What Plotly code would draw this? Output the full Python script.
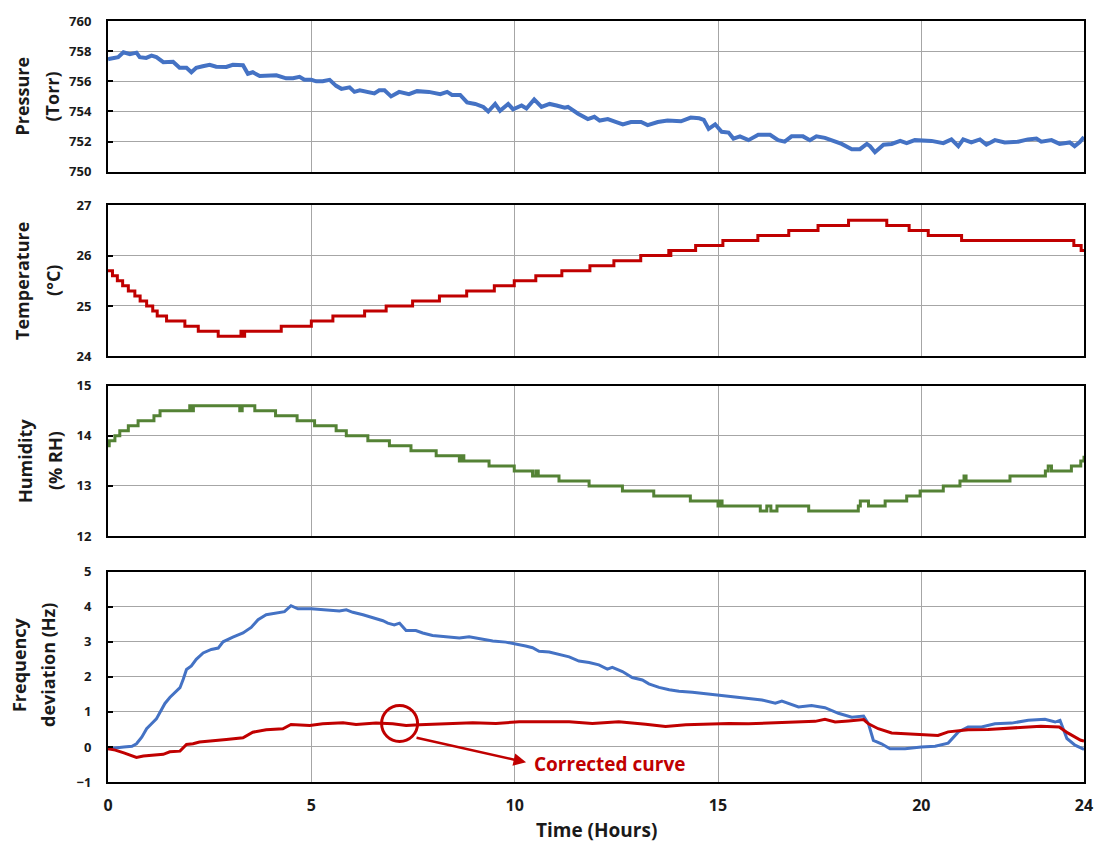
import plotly.graph_objects as go

# ---------------- data ----------------
# Pressure (Torr) vs time (hours)
press_t = [0.0, 0.05, 0.25, 0.38, 0.54, 0.70, 0.78, 0.94, 1.07, 1.19, 1.36, 1.60, 1.76, 1.93, 2.05,
           2.17, 2.33, 2.50, 2.66, 2.91, 3.07, 3.32, 3.44, 3.56, 3.73, 3.97, 4.14, 4.38, 4.55, 4.71,
           4.83, 5.00, 5.12, 5.28, 5.45, 5.61, 5.74, 5.94, 6.06, 6.19, 6.35, 6.55, 6.67, 6.80, 6.96,
           7.16, 7.40, 7.60, 7.89, 8.17, 8.34, 8.46, 8.66, 8.83, 9.03, 9.23, 9.35, 9.52, 9.64, 9.84,
           9.96, 10.17, 10.29, 10.48, 10.66, 10.86, 11.03, 11.23, 11.31, 11.56, 11.80, 11.96, 12.09,
           12.29, 12.50, 12.66, 12.86, 13.11, 13.27, 13.52, 13.76, 14.09, 14.33, 14.54, 14.65, 14.77,
           14.93, 15.09, 15.26, 15.38, 15.54, 15.75, 15.99, 16.28, 16.48, 16.64, 16.81, 17.09, 17.26,
           17.42, 17.63, 17.83, 18.04, 18.29, 18.49, 18.66, 18.74, 18.86, 19.07, 19.27, 19.48, 19.64,
           19.84, 20.25, 20.54, 20.74, 20.91, 21.03, 21.23, 21.44, 21.60, 21.81, 22.05, 22.38, 22.62,
           22.83, 22.95, 23.20, 23.40, 23.65, 23.77, 23.89, 24.0]
press_v = [757.45, 757.5, 757.6, 757.93, 757.8, 757.9, 757.6, 757.55, 757.7, 757.6, 757.27, 757.3,
           756.9, 756.9, 756.6, 756.9, 757.0, 757.1, 756.97, 756.95, 757.1, 757.07, 756.5, 756.6,
           756.35, 756.4, 756.4, 756.2, 756.2, 756.3, 756.1, 756.1, 756.0, 756.0, 756.1, 755.7,
           755.5, 755.6, 755.3, 755.4, 755.3, 755.2, 755.4, 755.4, 755.0, 755.3, 755.15, 755.35,
           755.3, 755.15, 755.3, 755.1, 755.1, 754.6, 754.5, 754.3, 754.0, 754.5, 754.05, 754.5,
           754.15, 754.4, 754.2, 754.8, 754.3, 754.5, 754.4, 754.25, 754.3, 753.85, 753.5, 753.65,
           753.4, 753.5, 753.3, 753.15, 753.3, 753.3, 753.1, 753.3, 753.4, 753.35, 753.6, 753.55,
           753.45, 752.85, 753.15, 752.65, 752.6, 752.2, 752.35, 752.1, 752.45, 752.45, 752.1,
           752.0, 752.35, 752.35, 752.1, 752.35, 752.25, 752.05, 751.85, 751.5, 751.5, 751.85,
           751.7, 751.3, 751.8, 751.85, 752.05, 751.9, 752.1, 752.05, 751.9, 752.15, 751.7, 752.15,
           751.95, 752.15, 751.8, 752.1, 751.95, 752.0, 752.15, 752.2, 752.0, 752.1, 751.85, 751.95,
           751.7, 751.95, 752.3]

# Temperature (°C): time at which each reading level begins
temp_t = [0.0, 0.11, 0.23, 0.36, 0.50, 0.66, 0.79, 0.95, 1.10, 1.21, 1.44, 1.89, 2.22, 2.71, 3.27,
          3.29, 3.36, 4.26, 5.00, 5.53, 6.31, 6.84, 7.49, 8.15, 8.82, 9.50, 9.99, 10.52, 11.16,
          11.85, 12.44, 13.10, 13.79, 13.82, 13.84, 14.45, 15.12, 15.98, 16.74, 17.46, 18.21, 19.15,
          19.70, 20.17, 20.99, 23.75, 23.93, 24.0]
temp_v = [25.7, 25.6, 25.5, 25.4, 25.3, 25.2, 25.1, 25.0, 24.9, 24.8, 24.7, 24.6, 24.5, 24.4, 24.5,
          24.4, 24.5, 24.6, 24.7, 24.8, 24.9, 25.0, 25.1, 25.2, 25.3, 25.4, 25.5, 25.6, 25.7,
          25.8, 25.9, 26.0, 26.1, 26.0, 26.1, 26.2, 26.3, 26.4, 26.5, 26.6, 26.7, 26.6,
          26.5, 26.4, 26.3, 26.2, 26.1, 26.1]

# Humidity (% RH): time at which each reading level begins
hum_t = [0.0, 0.03, 0.17, 0.29, 0.50, 0.74, 1.13, 1.28, 2.01, 2.05, 2.10, 3.24, 3.30, 3.61, 4.12,
         4.65, 5.08, 5.61, 5.86, 6.39, 6.92, 7.45, 8.07, 8.64, 8.70, 8.75, 9.37, 9.99, 10.44, 10.52,
         10.58, 11.09, 11.83, 12.65, 13.42, 14.32, 15.00, 15.05, 15.10, 16.04, 16.20, 16.30, 16.45,
         17.23, 18.45, 18.50, 18.70, 19.11, 19.64, 19.97, 20.54, 20.95, 21.05, 21.10, 22.18, 23.05,
         23.12, 23.20, 23.69, 23.92, 24.0]
hum_v = [13.8, 13.9, 14.0, 14.1, 14.2, 14.3, 14.4, 14.5, 14.6, 14.5, 14.6, 14.5, 14.6, 14.5, 14.4,
         14.3, 14.2, 14.1, 14.0, 13.9, 13.8, 13.7, 13.6, 13.5, 13.6, 13.5, 13.4, 13.3, 13.2, 13.3,
         13.2, 13.1, 13.0, 12.9, 12.8, 12.7, 12.6, 12.7, 12.6, 12.5, 12.6, 12.5, 12.6,
         12.5, 12.6, 12.7, 12.6, 12.7, 12.8, 12.9, 13.0, 13.1, 13.2, 13.1, 13.2, 13.3, 13.4,
         13.3, 13.4, 13.5, 13.6, 13.6]
hum_v = hum_v[:len(hum_t)]

# Frequency deviation (Hz): raw and temperature/humidity-corrected
freq_t = [0.0, 0.18, 0.39, 0.59, 0.70, 0.83, 0.95, 1.07, 1.19, 1.28, 1.40, 1.52, 1.65, 1.77, 1.85,
          1.93, 2.05, 2.17, 2.34, 2.54, 2.71, 2.83, 3.07, 3.32, 3.52, 3.69, 3.89, 4.14, 4.34, 4.50,
          4.67, 5.00, 5.37, 5.69, 5.86, 6.02, 6.27, 6.51, 6.76, 6.88, 7.04, 7.17, 7.33, 7.57, 7.74,
          7.98, 8.31, 8.64, 8.88, 9.13, 9.46, 9.78, 9.98, 10.27, 10.44, 10.60, 10.85, 11.09, 11.34,
          11.58, 11.83, 12.07, 12.28, 12.40, 12.65, 12.89, 13.14, 13.30, 13.55, 13.80, 14.04, 14.37,
          14.70, 14.98, 15.35, 15.68, 15.96, 16.08, 16.41, 16.57, 16.98, 17.30, 17.63, 17.96, 18.29,
          18.58, 18.70, 18.82, 19.02, 19.23, 19.60, 20.00, 20.34, 20.66, 20.91, 21.15, 21.48, 21.81,
          22.22, 22.63, 23.04, 23.29, 23.41, 23.58, 23.78, 23.94, 24.0]
freq_raw = [-0.05, -0.02, 0.0, 0.02, 0.09, 0.28, 0.52, 0.66, 0.80, 0.99, 1.24, 1.41, 1.55, 1.69,
            1.93, 2.21, 2.31, 2.50, 2.68, 2.78, 2.82, 3.0, 3.13, 3.25, 3.41, 3.63, 3.77, 3.81, 3.86,
            4.03, 3.94, 3.94, 3.90, 3.88, 3.91, 3.84, 3.77, 3.69, 3.60, 3.53, 3.48, 3.53, 3.32, 3.32,
            3.25, 3.18, 3.14, 3.11, 3.14, 3.08, 3.02, 2.99, 2.95, 2.88, 2.83, 2.73, 2.71, 2.64, 2.57,
            2.45, 2.41, 2.34, 2.22, 2.27, 2.15, 1.98, 1.91, 1.80, 1.70, 1.63, 1.59, 1.56, 1.52, 1.49,
            1.44, 1.40, 1.36, 1.34, 1.25, 1.31, 1.14, 1.18, 1.12, 0.96, 0.85, 0.88, 0.66, 0.19, 0.09,
            -0.05, -0.05, 0.0, 0.02, 0.11, 0.43, 0.57, 0.57, 0.66, 0.68, 0.76, 0.79, 0.71, 0.76, 0.24,
            0.05, -0.05, -0.07]

corr_t = [0.0, 0.18, 0.39, 0.59, 0.70, 0.87, 1.11, 1.36, 1.52, 1.77, 1.93, 2.09, 2.25, 2.58, 2.91,
          3.32, 3.56, 3.89, 4.30, 4.50, 4.96, 5.28, 5.78, 6.10, 6.59, 7.00, 7.33, 7.66, 8.31, 8.97,
          9.54, 10.11, 10.77, 11.34, 11.91, 12.56, 13.22, 13.71, 14.21, 14.70, 15.27, 15.75, 16.24,
          16.73, 17.39, 17.63, 17.88, 18.21, 18.58, 18.70, 18.94, 19.27, 19.68, 20.17, 20.41, 20.66,
          20.91, 21.15, 21.64, 22.30, 22.94, 23.39, 23.60, 23.92, 24.0]
freq_corr = [-0.05, -0.09, -0.17, -0.26, -0.30, -0.26, -0.24, -0.21, -0.14, -0.12, 0.07, 0.09, 0.14,
             0.17, 0.21, 0.26, 0.42, 0.49, 0.52, 0.64, 0.61, 0.66, 0.69, 0.64, 0.68, 0.66, 0.61,
             0.63, 0.65, 0.69, 0.67, 0.72, 0.72, 0.72, 0.67, 0.72, 0.65, 0.58, 0.63, 0.65, 0.67,
             0.66, 0.68, 0.71, 0.73, 0.79, 0.71, 0.74, 0.78, 0.66, 0.52, 0.40, 0.38, 0.36, 0.33,
             0.43, 0.47, 0.49, 0.50, 0.54, 0.59, 0.57, 0.40, 0.19, 0.17]

x_ticks = [0, 5, 10, 15, 20, 24]
y_ticks = [
    [750, 752, 754, 756, 758, 760],
    [24, 25, 26, 27],
    [12, 13, 14, 15],
    [-1, 0, 1, 2, 3, 4, 5],
]
y_ranges = [[750, 760], [24, 27], [12, 15], [-1, 5]]
y_titles = [("Pressure", "(Torr)"), ("Temperature", "(°C)"),
            ("Humidity", "(% RH)"), ("Frequency", "deviation (Hz)")]

# ---------------- styling ----------------
BLUE = "#4472C4"
RED = "#C00000"
GREEN = "#548235"
GRID = "#A6A6A6"
TEXT = "#1a1a1a"
FONT = "Open Sans"

W, H = 1105, 842
ML, MR, MT, MB = 108, 19, 15, 60
plot_w = W - ML - MR
plot_h = H - MT - MB

# panel pixel extents (top, bottom)
panels_px = [(15, 167), (200.7, 353), (382.7, 534), (570, 782)]
# centre line of each rotated title row (pixels), per panel
title_x_px = [(22, 52), (22, 53), (25, 55), (19, 48)]
title_y_shift = [0, 0, 0, 12]


def ydom(top, bottom):
    return [(H - MB - bottom) / plot_h, (H - MB - top) / plot_h]


fig = go.Figure()

fig.add_trace(go.Scatter(x=press_t, y=press_v, mode="lines", xaxis="x", yaxis="y",
                         line=dict(color=BLUE, width=4), showlegend=False))
fig.add_trace(go.Scatter(x=temp_t, y=temp_v, mode="lines", xaxis="x2", yaxis="y2",
                         line=dict(color=RED, width=3, shape="hv"), showlegend=False))
fig.add_trace(go.Scatter(x=hum_t, y=hum_v, mode="lines", xaxis="x3", yaxis="y3",
                         line=dict(color=GREEN, width=3, shape="hv"), showlegend=False))
fig.add_trace(go.Scatter(x=freq_t, y=freq_raw, mode="lines", xaxis="x4", yaxis="y4",
                         line=dict(color=BLUE, width=3), showlegend=False))
fig.add_trace(go.Scatter(x=corr_t, y=freq_corr, mode="lines", xaxis="x4", yaxis="y4",
                         line=dict(color=RED, width=3), showlegend=False))

layout = dict(
    width=W, height=H,
    margin=dict(l=ML, r=MR, t=MT, b=MB, pad=0),
    paper_bgcolor="white", plot_bgcolor="white",
    font=dict(family=FONT, color=TEXT),
    annotations=[], shapes=[],
)

for i in range(4):
    sfx = "" if i == 0 else str(i + 1)
    top, bottom = panels_px[i]
    layout["xaxis" + sfx] = dict(
        domain=[0, 1], anchor="y" + sfx, range=[0, 24],
        tickmode="array", tickvals=x_ticks, ticktext=[str(v) for v in x_ticks],
        showticklabels=(i == 3),
        tickfont=dict(family=FONT, size=16, weight="bold", color=TEXT),
        ticks="", ticklabelstandoff=8,
        showgrid=True, gridcolor=GRID, gridwidth=1,
        showline=True, linecolor="black", linewidth=2, mirror=True,
        zeroline=False, fixedrange=True,
    )
    layout["yaxis" + sfx] = dict(
        domain=ydom(top, bottom), anchor="x" + sfx, range=y_ranges[i],
        tickmode="array", tickvals=y_ticks[i],
        tickfont=dict(family=FONT, size=13, weight="bold", color=TEXT),
        ticks="inside", ticklen=5, tickcolor="black", tickwidth=1.5,
        ticklabelstandoff=12,
        showgrid=True, gridcolor=GRID, gridwidth=1,
        showline=True, linecolor="black", linewidth=2, mirror=True,
        zeroline=False, fixedrange=True,
    )

# Two-line rotated y-axis titles
for i, (l1, l2) in enumerate(y_titles):
    yref = "y domain" if i == 0 else "y%d domain" % (i + 1)
    for txt, px in zip((l1, l2), title_x_px[i]):
        layout["annotations"].append(dict(
            text="<b>%s</b>" % txt, xref="paper", yref=yref,
            x=(px - ML) / plot_w, y=0.5, yshift=title_y_shift[i],
            xanchor="center", yanchor="middle",
            textangle=-90, showarrow=False,
            font=dict(family=FONT, size=18, color=TEXT),
        ))

# x-axis title
layout["annotations"].append(dict(
    text="<b>Time (Hours)</b>", xref="paper", yref="paper",
    x=0.5, y=(H - MB - 830) / plot_h, xanchor="center", yanchor="middle",
    showarrow=False, font=dict(family=FONT, size=19, color=TEXT),
))

# Callout on the corrected curve
layout["shapes"].append(dict(
    type="circle", xref="x4", yref="y4",
    xsizemode="pixel", ysizemode="pixel",
    xanchor=7.17, yanchor=0.67,
    x0=-18, x1=18, y0=-18, y1=18,
    line=dict(color=RED, width=3), fillcolor="rgba(0,0,0,0)",
))
layout["annotations"].append(dict(
    text="", x=10.28, y=-0.44, xref="x4", yref="y4",
    ax=7.55, ay=0.27, axref="x4", ayref="y4",
    showarrow=True, arrowhead=2, arrowsize=1, arrowwidth=2.5, arrowcolor=RED,
    standoff=0, startstandoff=0,
))
layout["annotations"].append(dict(
    text="<b>Corrected curve</b>", x=10.43, y=-0.49, xref="x4", yref="y4",
    xanchor="left", yanchor="middle", showarrow=False,
    font=dict(family=FONT, size=19, color=RED),
))

fig.update_layout(**layout)
fig.write_html("out.html")
